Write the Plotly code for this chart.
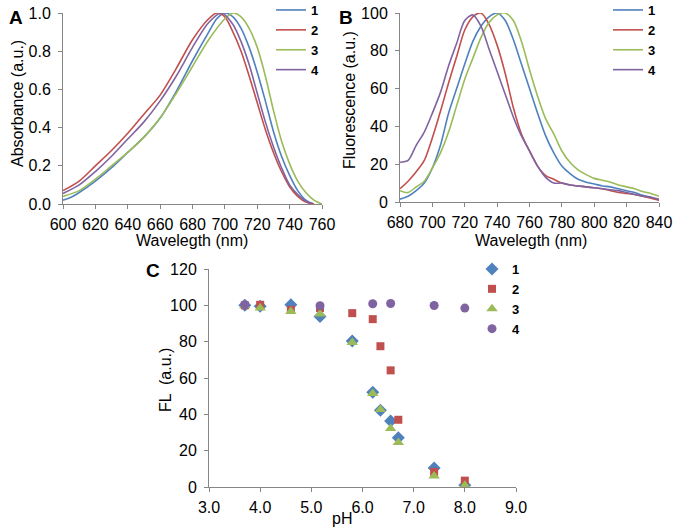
import plotly.graph_objects as go

# ---------------- data ----------------
series_names = ["1", "2", "3", "4"]
colors = ["#4F81BD", "#C0504D", "#9BBB59", "#8064A2"]

# Panel A: absorbance spectra
abs_x_1 = [600, 605, 610, 620, 630, 640, 650, 660, 670, 680, 690, 695, 700, 705, 710, 715, 720, 725, 730, 735, 740, 745, 750, 755]
abs_y_1 = [0.02, 0.035, 0.06, 0.12, 0.19, 0.27, 0.35, 0.45, 0.59, 0.75, 0.90, 0.97, 1.0, 0.98, 0.92, 0.82, 0.69, 0.54, 0.38, 0.25, 0.15, 0.07, 0.02, 0.0]
abs_x_2 = [600, 610, 620, 630, 640, 650, 660, 670, 680, 690, 695, 700, 705, 710, 715, 720, 725, 730, 735, 740, 745, 750, 755]
abs_y_2 = [0.07, 0.12, 0.20, 0.28, 0.37, 0.47, 0.57, 0.71, 0.86, 0.97, 1.0, 0.98, 0.90, 0.80, 0.67, 0.53, 0.39, 0.27, 0.17, 0.09, 0.04, 0.01, 0.0]
abs_x_3 = [600, 610, 620, 630, 640, 650, 660, 670, 680, 690, 700, 705, 710, 715, 720, 725, 730, 735, 740, 745, 750, 755, 760]
abs_y_3 = [0.04, 0.07, 0.13, 0.20, 0.27, 0.35, 0.45, 0.58, 0.72, 0.86, 0.97, 1.0, 0.98, 0.92, 0.82, 0.67, 0.49, 0.33, 0.21, 0.12, 0.06, 0.02, 0.0]
abs_x_4 = [600, 610, 620, 630, 640, 650, 660, 670, 680, 690, 698, 705, 710, 715, 720, 725, 730, 735, 740, 745, 750, 753]
abs_y_4 = [0.055, 0.10, 0.17, 0.25, 0.34, 0.43, 0.54, 0.67, 0.82, 0.95, 1.0, 0.94, 0.85, 0.73, 0.58, 0.43, 0.30, 0.19, 0.10, 0.05, 0.015, 0.0]

# Panel B: fluorescence spectra
fl_wl = [680, 685, 690, 695, 700, 705, 710, 715, 720, 725, 730, 735, 740, 745, 750, 755, 760,
         765, 770, 775, 780, 785, 790, 795, 800, 805, 810, 815, 820, 825, 830, 835, 840]
fl_1 = [1.5, 3, 6, 10, 18, 30, 47, 60, 73, 85, 93, 98, 100, 96, 86, 73, 60,
        47, 35, 26, 19, 15, 12, 10.5, 9.5, 8.5, 8, 7, 6, 5, 3.5, 2.5, 1]
fl_2 = [7, 11, 16, 22, 34, 48, 63, 77, 91, 98, 100, 94, 83, 68, 50, 36, 27,
        19, 14, 12, 10, 9, 8.5, 8, 7.5, 7, 6, 5, 4.5, 4, 3, 2, 1]
fl_3 = [6, 5, 8, 11, 18, 26, 37, 51, 65, 76, 87, 95, 99, 100, 96, 85, 70,
        56, 44, 36, 27, 21, 17, 14.5, 12.5, 11.5, 10.5, 9, 8, 7, 5.5, 4.5, 3]
fl_4 = [21, 22, 30, 37, 47, 58, 72, 84, 96, 99, 93, 81, 69, 57, 45, 35, 27,
        19, 13, 10, 10, 9, 8.5, 8, 7.5, 7, 6.5, 6, 5, 4, 3, 2.5, 1.5]

# Panel C: pH titration
ph_123 = [3.7, 4.0, 4.6, 5.17, 5.8, 6.2, 6.35, 6.55, 6.7, 7.4, 8.0]
ph_fl_1 = [100, 99.5, 100.3, 93.9, 80.4, 52.1, 42.3, 36.3, 27.1, 10.5, 1.0]
ph_fl_2 = [100, 100.3, 97.5, 98.5, 95.7, 92.4, 77.5, 64.2, 37.0, 8.3, 3.5]
ph_fl_3 = [99.8, 98.5, 96.6, 95.2, 79.5, 51.5, 42.7, 32.2, 24.5, 6.0, 0.9]
ph_4 = [3.7, 5.17, 6.2, 6.55, 7.4, 8.0]
ph_fl_4 = [100.3, 99.8, 100.9, 101.0, 99.9, 98.5]

# ---------------- figure ----------------
FONT = "Liberation Sans, Arial, sans-serif"
AXIS_GRAY = "#868686"
W, H = 675, 531

fig = go.Figure()

abs_xs = [abs_x_1, abs_x_2, abs_x_3, abs_x_4]
abs_ys = [abs_y_1, abs_y_2, abs_y_3, abs_y_4]
for name, c, xs, ys in zip(series_names, colors, abs_xs, abs_ys):
    fig.add_trace(go.Scatter(x=xs, y=ys, mode="lines", name=name,
                             line=dict(color=c, width=1.6, shape="spline", smoothing=0.8),
                             xaxis="x", yaxis="y", legend="legend"))

fl_ys = [fl_1, fl_2, fl_3, fl_4]
for name, c, ys in zip(series_names, colors, fl_ys):
    fig.add_trace(go.Scatter(x=fl_wl, y=ys, mode="lines", name=name,
                             line=dict(color=c, width=1.6, shape="spline", smoothing=0.8),
                             xaxis="x2", yaxis="y2", legend="legend2"))

ph_xs = [ph_123, ph_123, ph_123, ph_4]
ph_ys = [ph_fl_1, ph_fl_2, ph_fl_3, ph_fl_4]
symbols = ["diamond", "square", "triangle-up", "circle"]
sizes = [10, 8, 10, 9]
for name, c, xs, ys, sym, sz in zip(series_names, colors, ph_xs, ph_ys, symbols, sizes):
    fig.add_trace(go.Scatter(x=xs, y=ys, mode="markers", name=name,
                             marker=dict(color=c, symbol=sym, size=sz),
                             xaxis="x3", yaxis="y3", legend="legend3"))


def px_x(p):
    return p / W


def px_y(p):
    return 1 - p / H


tickfont = dict(family=FONT, size=16, color="#000000")
common_x = dict(showgrid=False, zeroline=False, showline=True, linecolor=AXIS_GRAY, linewidth=1,
                ticks="outside", ticklen=4, tickcolor=AXIS_GRAY, tickfont=tickfont,
                ticklabelstandoff=2)
common_y = dict(showgrid=False, zeroline=False, showline=True, linecolor=AXIS_GRAY, linewidth=1,
                ticks="outside", ticklen=4, tickcolor=AXIS_GRAY, tickfont=tickfont,
                ticklabelstandoff=4)

legfont = dict(family=FONT, size=13, color="#000000", weight="bold")

fig.update_layout(
    width=W, height=H,
    margin=dict(l=0, r=0, t=0, b=0, autoexpand=False),
    paper_bgcolor="white", plot_bgcolor="white",
    font=dict(family=FONT, size=16, color="#000000"),
    xaxis=dict(domain=[px_x(63), px_x(322)], range=[600, 760], dtick=20, anchor="y", **common_x),
    yaxis=dict(domain=[px_y(204), px_y(13)], range=[0, 1.0], dtick=0.2, tickformat=".1f", anchor="x", **common_y),
    xaxis2=dict(domain=[px_x(400), px_x(659)], range=[680, 840], dtick=20, anchor="y2", **common_x),
    yaxis2=dict(domain=[px_y(202), px_y(13)], range=[0, 100], dtick=20, anchor="x2", **common_y),
    xaxis3=dict(domain=[px_x(209), px_x(516)], range=[3, 9], dtick=1, tickformat=".1f", anchor="y3", **common_x),
    yaxis3=dict(domain=[px_y(487), px_y(269)], range=[0, 120], dtick=20, anchor="x3", **common_y),
    legend=dict(x=px_x(271), y=px_y(-5), xanchor="left", yanchor="top", bgcolor="rgba(0,0,0,0)",
                font=legfont, tracegroupgap=0, itemwidth=30),
    legend2=dict(x=px_x(608), y=px_y(-5), xanchor="left", yanchor="top", bgcolor="rgba(0,0,0,0)",
                 font=legfont, tracegroupgap=0, itemwidth=30),
    legend3=dict(x=px_x(472), y=px_y(254), xanchor="left", yanchor="top", bgcolor="rgba(0,0,0,0)",
                 font=legfont, tracegroupgap=0, itemwidth=30),
    showlegend=True,
)

annos = [
    dict(text="<b>A</b>", x=px_x(16), y=px_y(17), size=19),
    dict(text="<b>B</b>", x=px_x(346), y=px_y(17), size=19),
    dict(text="<b>C</b>", x=px_x(153), y=px_y(270), size=19),
    dict(text="Wavelegth (nm)", x=px_x(192), y=px_y(240), size=16),
    dict(text="Wavelegth (nm)", x=px_x(531), y=px_y(240), size=16),
    dict(text="pH", x=px_x(342), y=px_y(518), size=16),
    dict(text="Absorbance (a.u.)", x=px_x(17), y=px_y(104), size=16, angle=-90),
    dict(text="Fluorescence (a.u.)", x=px_x(350), y=px_y(100), size=16, angle=-90),
    dict(text="FL  (a.u.)", x=px_x(165), y=px_y(380), size=16, angle=-90),
]
for a in annos:
    fig.add_annotation(text=a["text"], x=a["x"], y=a["y"], xref="paper", yref="paper",
                       xanchor="center", yanchor="middle", showarrow=False,
                       textangle=a.get("angle", 0),
                       font=dict(family=FONT, size=a["size"], color="#000000"))

fig.write_html("out.html",
               config={"displayModeBar": False},
               post_script="document.body.style.margin='0';document.body.style.overflow='hidden';")
